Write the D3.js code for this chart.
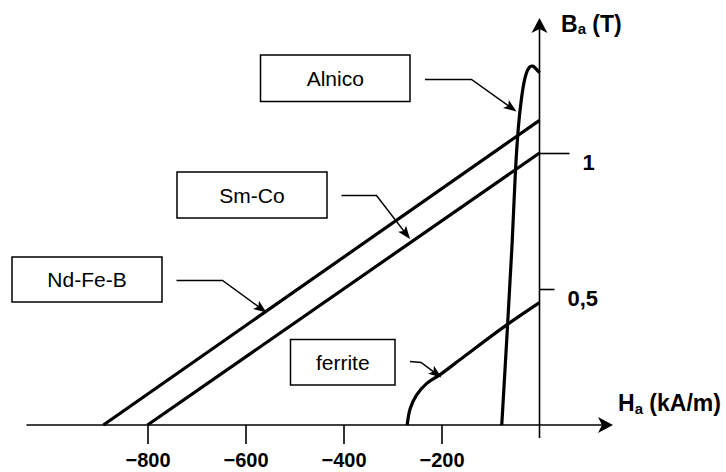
<!DOCTYPE html>
<html>
<head>
<meta charset="utf-8">
<script src="https://cdn.jsdelivr.net/npm/d3@7"></script>
<style>
  body { margin: 0; background: #fff; }
  svg { display: block; font-family: Arial, "Liberation Sans", sans-serif; }
  .curve { fill: none; stroke: #000; stroke-width: 3.2; }
  .axis-line { stroke: #000; stroke-width: 1.6; }
  .tick-label { font-weight: bold; }
  .box rect { fill: #fff; stroke: #000; stroke-width: 1.5; }
  .leader { fill: none; stroke: #000; stroke-width: 1.5; }
</style>
</head>
<body>
<svg id="chart"></svg>
<script>
// demagnetisation curves, H in kA/m, B in T
const ndfeb = [[-890, 0], [0, 1.12]];
const smco = [[-800, 0], [0, 1.0]];
const ferrite = [[-270, 0], [-264, 0.06], [-251, 0.11], [-230, 0.153], [-203, 0.185],
                 [-155, 0.25], [-67, 0.368], [0, 0.45]];
const alnico = [[-77, 0], [-66, 0.34], [-55, 0.68], [-50, 0.92], [-43, 1.11], [-37, 1.2],
                [-32, 1.26], [-27, 1.295], [-21, 1.318], [-14, 1.322], [-7, 1.31], [0, 1.295]];

const xTicks = [-800, -600, -400, -200];
const yTicks = [0.5, 1];
const materials = ['Alnico', 'Sm-Co', 'Nd-Fe-B', 'ferrite'];

const width = 726, height = 472;

const svg = d3.select('#chart')
    .attr('width', width)
    .attr('height', height);

const x = d3.scaleLinear().domain([-800, 0]).range([147.5, 539.5]);
const y = d3.scaleLinear().domain([0, 1]).range([425, 153]);

// arrow heads (tip at 0,0 pointing right)
function arrowHead(g, tx, ty, angle, len, half, notch) {
    g.append('path')
        .attr('d', `M0,0 L${-len},${-half} L${-len + notch},0 L${-len},${half} Z`)
        .attr('transform', `translate(${tx},${ty}) rotate(${angle})`)
        .attr('fill', '#000');
}

// axes
const axes = svg.append('g');
axes.append('line')
    .attr('class', 'axis-line')
    .attr('x1', x(-1047)).attr('x2', x(140))
    .attr('y1', y(0)).attr('y2', y(0));
arrowHead(axes, x(150), y(0), 0, 15, 8, 4);

axes.append('line')
    .attr('class', 'axis-line')
    .attr('x1', x(0)).attr('x2', x(0))
    .attr('y1', y(-0.048)).attr('y2', y(1.465));
arrowHead(axes, x(0), y(1.496), -90, 15, 8, 4);

const xAxisG = svg.append('g')
    .attr('transform', `translate(0,${y(0)})`)
    .call(d3.axisBottom(x).tickValues(xTicks).tickSize(19).tickSizeOuter(0).tickPadding(9))
    .call(g => g.select('.domain').remove());
xAxisG.selectAll('.tick line').attr('stroke-width', 1.6);
xAxisG.selectAll('.tick text')
    .attr('class', 'tick-label')
    .attr('font-size', 20)
    .attr('font-family', 'Arial, "Liberation Sans", sans-serif')
    .attr('fill', '#000');

const commaFormat = d => String(d).replace('.', ',');
const yTickLen = d => d === 1 ? 30 : 15;
const yAxisG = svg.append('g')
    .attr('transform', `translate(${x(0)},0)`)
    .call(d3.axisRight(y).tickValues(yTicks).tickFormat(commaFormat).tickSizeOuter(0))
    .call(g => g.select('.domain').remove());
yAxisG.selectAll('.tick line')
    .attr('x2', d => yTickLen(d))
    .attr('stroke-width', 1.6);
yAxisG.selectAll('.tick text')
    .attr('class', 'tick-label')
    .attr('x', d => yTickLen(d) + 13)
    .attr('dy', '0.74em')
    .attr('font-size', 22)
    .attr('font-family', 'Arial, "Liberation Sans", sans-serif')
    .attr('fill', '#000');

// axis titles
const bTitle = svg.append('text')
    .attr('x', 561).attr('y', 32)
    .attr('font-size', 23).attr('font-weight', 'bold');
bTitle.append('tspan').text('B');
bTitle.append('tspan').attr('font-size', 15).attr('dy', 2).text('a');
bTitle.append('tspan').attr('dy', -2).text(' (T)');

const hTitle = svg.append('text')
    .attr('x', 618).attr('y', 411)
    .attr('font-size', 23).attr('font-weight', 'bold');
hTitle.append('tspan').text('H');
hTitle.append('tspan').attr('font-size', 15).attr('dy', 3).text('a');
hTitle.append('tspan').attr('dy', -3).text(' (kA/m)');

// curves
const line = d3.line()
    .x(d => x(d[0]))
    .y(d => y(d[1]));
const smooth = d3.line()
    .x(d => x(d[0]))
    .y(d => y(d[1]))
    .curve(d3.curveCatmullRom.alpha(0.5));
const rounded = d3.line()
    .x(d => x(d[0]))
    .y(d => y(d[1]))
    .curve(d3.curveBasis);

svg.append('path').attr('class', 'curve').attr('d', line(ndfeb));
svg.append('path').attr('class', 'curve').attr('d', line(smco));
svg.append('path').attr('class', 'curve').attr('d', smooth(ferrite));
svg.append('path').attr('class', 'curve').attr('d', rounded(alnico));

// labelled boxes with leader arrows
const boxes = [
    { box: [260.5, 55, 149.5, 46.5], leader: [[425, 79.5], [471.5, 79.5], [516.5, 111.5]] },
    { box: [177, 172, 150, 46], leader: [[341.5, 195.5], [376.5, 195.5], [410, 239]] },
    { box: [12, 257, 150, 45], leader: [[176.5, 280.5], [222.5, 280.5], [266.5, 312.5]] },
    { box: [290.5, 339.5, 104.5, 45.5], leader: [[410, 361.5], [421, 362.5], [441.5, 377.5]] }
];

boxes.forEach((b, i) => {
    const g = svg.append('g').attr('class', 'box');
    const [bx, by, bw, bh] = b.box;
    g.append('rect')
        .attr('x', bx).attr('y', by)
        .attr('width', bw).attr('height', bh);
    g.append('text')
        .attr('x', bx + bw / 2)
        .attr('y', by + bh / 2 + 7.5)
        .attr('text-anchor', 'middle')
        .attr('font-size', 21)
        .text(materials[i]);

    const pts = b.leader;
    const tip = pts[pts.length - 1], prev = pts[pts.length - 2];
    const ang = Math.atan2(tip[1] - prev[1], tip[0] - prev[0]) * 180 / Math.PI;
    const shortTip = [tip[0] - 8 * Math.cos(ang * Math.PI / 180), tip[1] - 8 * Math.sin(ang * Math.PI / 180)];
    svg.append('path')
        .attr('class', 'leader')
        .attr('d', d3.line()(pts.slice(0, -1).concat([shortTip])));
    arrowHead(svg, tip[0], tip[1], ang, 13, 5, 3);
});
</script>
</body>
</html>
